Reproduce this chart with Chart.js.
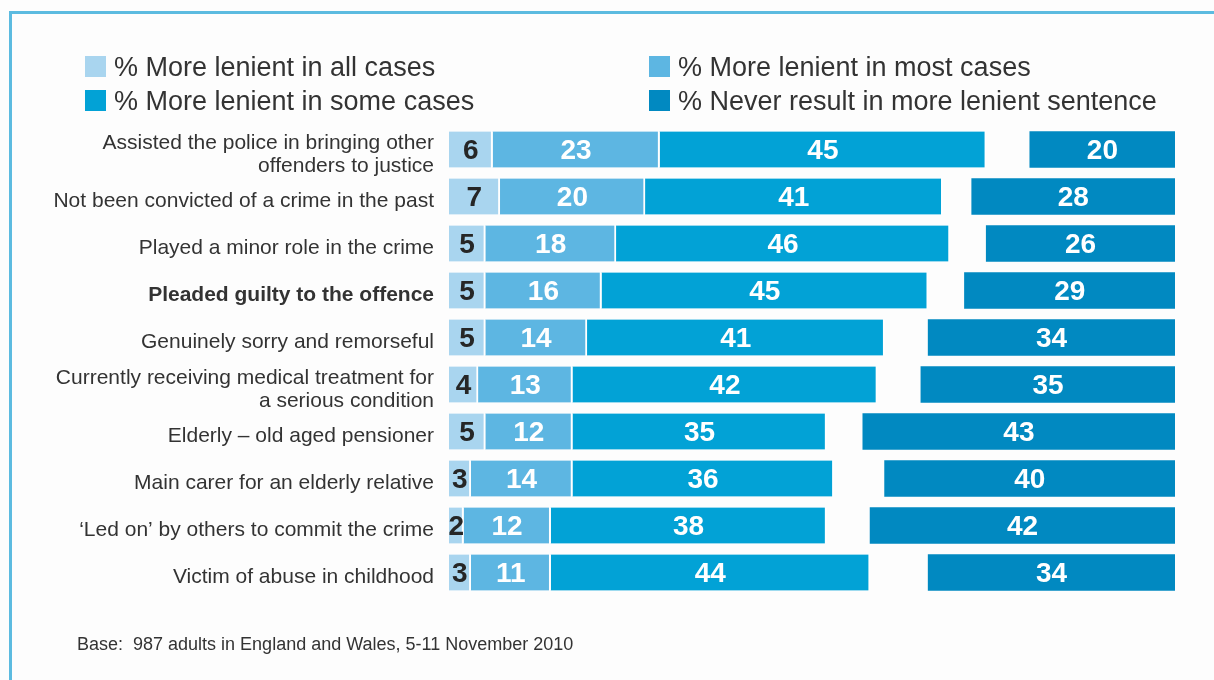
<!DOCTYPE html>
<html>
<head>
<meta charset="utf-8">
<title>Lenient sentencing factors</title>
<script src="https://cdn.jsdelivr.net/npm/chart.js@4.4.0/dist/chart.umd.min.js"></script>
<style>
  html, body { margin: 0; padding: 0; background: #fdfdfd; }
  #wrap { position: relative; width: 1214px; height: 680px; overflow: hidden; }
  #frame {
    position: absolute; left: 9px; top: 11px; width: 1220px; height: 700px;
    border-top: 3px solid #5cbbe0; border-left: 3px solid #5cbbe0;
  }
  #chart { position: absolute; left: 0; top: 0; }
  #base {
    position: absolute; left: 77px; top: 634px;
    font: 18px "Liberation Sans", Arial, sans-serif; color: #333;
  }
</style>
</head>
<body>
<div id="wrap">
  <div id="frame"></div>
  <canvas id="chart" width="1214" height="680"></canvas>
  <div id="base">Base:&nbsp; 987 adults in England and Wales, 5-11 November 2010</div>
</div>
<script>
const categories = [
  ["Assisted the police in bringing other", "offenders to justice"],
  "Not been convicted of a crime in the past",
  "Played a minor role in the crime",
  "Pleaded guilty to the offence",
  "Genuinely sorry and remorseful",
  ["Currently receiving medical treatment for", "a serious condition"],
  "Elderly \u2013 old aged pensioner",
  "Main carer for an elderly relative",
  "\u2018Led on\u2019 by others to commit the crime",
  "Victim of abuse in childhood",
];

const allCases = [6, 7, 5, 5, 5, 4, 5, 3, 2, 3];
const mostCases = [23, 20, 18, 16, 14, 13, 12, 14, 12, 11];
const someCases = [45, 41, 46, 45, 41, 42, 35, 36, 38, 44];
const neverLenient = [20, 28, 26, 29, 34, 35, 43, 40, 42, 34];

const seriesNames = [
  "% More lenient in all cases",
  "% More lenient in most cases",
  "% More lenient in some cases",
  "% Never result in more lenient sentence",
];
const seriesColors = ["#a9d5ef", "#5db6e2", "#02a2d6", "#0189c1"];

const FONT = '"Liberation Sans", Arial, sans-serif';

// numbers written in the middle of each segment
const valueLabels = {
  id: "valueLabels",
  afterDatasetsDraw(chart) {
    const ctx = chart.ctx;
    ctx.save();
    ctx.font = "bold 28px " + FONT;
    ctx.textAlign = "center";
    ctx.textBaseline = "middle";
    chart.data.datasets.forEach((ds, di) => {
      chart.getDatasetMeta(di).data.forEach((bar, i) => {
        const { x, y, base } = bar.getProps(["x", "y", "base"], true);
        ctx.fillStyle = di === 0 ? "#262626" : "#ffffff";
        ctx.fillText(ds.data[i], (x + base) / 2, y + 2);
      });
    });
    ctx.restore();
  },
};

// two-column key above the bars
const legendKey = {
  id: "legendKey",
  afterDraw(chart) {
    const ctx = chart.ctx;
    const spots = [[85, 56], [649, 56], [85, 90], [649, 90]];
    ctx.save();
    ctx.font = "27px " + FONT;
    ctx.textBaseline = "middle";
    chart.data.datasets.forEach((ds, i) => {
      const [sx, sy] = spots[i];
      ctx.fillStyle = ds.backgroundColor;
      ctx.fillRect(sx, sy, 21, 21);
      ctx.fillStyle = "#333";
      ctx.fillText(ds.label, sx + 29, sy + 13);
    });
    ctx.restore();
  },
};

const makeSet = (i, data, axis) => ({
  label: seriesNames[i],
  data: data,
  backgroundColor: seriesColors[i],
  borderColor: "#ffffff",
  borderWidth: axis === "x" ? { right: 2, left: 0, top: 0, bottom: 0 } : 0,
  borderSkipped: false,
  xAxisID: axis,
  stack: "row",
  barThickness: 36,
});

const chart = new Chart(document.getElementById("chart"), {
  type: "bar",
  data: {
    labels: categories,
    datasets: [
      makeSet(0, allCases, "x"),
      makeSet(1, mostCases, "x"),
      makeSet(2, someCases, "x"),
      // "never" bars hang from the right edge on a reversed axis
      makeSet(3, neverLenient, "xNever"),
    ],
  },
  options: {
    indexAxis: "y",
    responsive: false,
    animation: false,
    layout: { padding: { top: 126, right: 39, bottom: 84, left: 0 } },
    scales: {
      x: { axis: "x", stacked: true, min: 0, max: 100, display: false },
      xNever: { axis: "x", type: "linear", reverse: true, stacked: true, min: 0, max: 100, display: false },
      y: {
        stacked: true,
        grid: { display: false, drawTicks: false },
        border: { display: false },
        ticks: {
          autoSkip: false,
          padding: 15,
          labelOffset: 5,
          color: "#333",
          font: (c) => ({
            family: FONT,
            size: 21,
            lineHeight: 1.1,
            weight: c.index === 3 ? "bold" : "normal",
          }),
        },
        afterFit: (scale) => {
          scale.width = 449;
        },
      },
    },
    plugins: {
      legend: { display: false },
      tooltip: { enabled: false },
    },
  },
  plugins: [valueLabels, legendKey],
});
</script>
</body>
</html>
